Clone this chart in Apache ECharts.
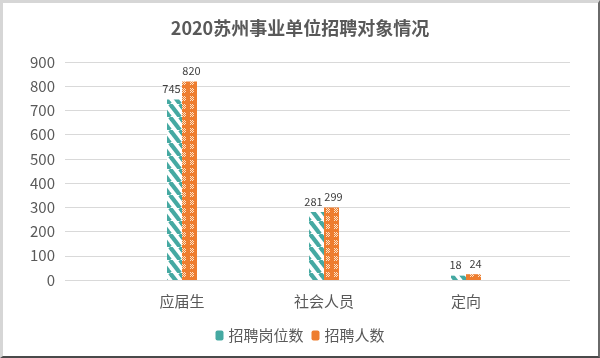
<!DOCTYPE html>
<html><head><meta charset="utf-8">
<script src="https://cdn.jsdelivr.net/npm/echarts@6/dist/echarts.min.js"></script>
<style>
html,body{margin:0;padding:0;background:#fff;}
#wrap{position:relative;width:600px;height:358px;overflow:hidden;}
#chart{position:absolute;left:0;top:0;width:600px;height:358px;}
#frame{position:absolute;left:0;top:0;width:595px;height:353px;border-left:3px solid #d6d6d6;border-top:3px solid #d6d6d6;border-right:2px solid #6a6a6a;border-bottom:2px solid #4a4a4a;pointer-events:none;}
</style></head>
<body><div id="wrap"><div id="chart"></div><div id="frame"></div></div>
<script>
const categories = ['应届生', '社会人员', '定向'];
const positions = [745, 281, 18];
const people = [820, 299, 24];
const seriesNames = ['招聘岗位数', '招聘人数'];
const yTicks = [0, 100, 200, 300, 400, 500, 600, 700, 800, 900];

function stripeTile() {
  const w = 10, h = 13;
  const c = document.createElement('canvas');
  c.width = w; c.height = h;
  const g = c.getContext('2d');
  g.fillStyle = '#ffffff'; g.fillRect(0, 0, w, h);
  g.strokeStyle = '#45a9a2'; g.lineWidth = 4.2;
  for (let k = -1; k <= 1; k++) {
    g.beginPath(); g.moveTo(k * w, 0); g.lineTo(k * w + w, h); g.stroke();
  }
  return c;
}
function checkTile() {
  const w = 8, h = 8;
  const c = document.createElement('canvas');
  c.width = w; c.height = h;
  const g = c.getContext('2d');
  g.fillStyle = '#ee7d2f'; g.fillRect(0, 0, w, h);
  g.fillStyle = '#f9e3cc';
  for (let y = 0; y < 5; y++) for (let x = 0; x < w; x++) {
    if ((x + y) % 2 === 0 && (x < 2 || x > 5)) g.fillRect(x, y, 1, 1);
  }
  return c;
}
const tealFill = { image: stripeTile(), repeat: 'repeat' };
const orangeFill = { image: checkTile(), repeat: 'repeat' };

const font = 'Noto Sans CJK SC';
const chart = echarts.init(document.getElementById('chart'));
chart.setOption({
  animation: false,
  title: { text: '2020苏州事业单位招聘对象情况', left: 'center', top: 14,
    textStyle: { fontFamily: font, fontSize: 18, fontWeight: 'bold', color: '#595959' } },
  legend: { bottom: 10, left: 'center', itemWidth: 8, itemHeight: 10, itemGap: 8,
    textStyle: { fontFamily: font, fontSize: 15, color: '#595959' },
    data: [
      { name: seriesNames[0], itemStyle: { color: '#45a9a2' } },
      { name: seriesNames[1], itemStyle: { color: '#ee7d2f' } }
    ] },
  grid: [
    { left: 65, right: 30, top: 62, bottom: 78 },
    { left: 111, right: 63, top: 62, bottom: 78 }
  ],
  xAxis: [
    { type: 'category', gridIndex: 0, data: categories, show: false },
    { type: 'category', gridIndex: 1, data: categories,
      axisLine: { show: false }, axisTick: { show: false },
      axisLabel: { fontFamily: font, fontSize: 15, color: '#595959', margin: 14 } }
  ],
  yAxis: [
    { type: 'value', gridIndex: 0, min: yTicks[0], max: yTicks[yTicks.length - 1], interval: 100,
      axisLine: { show: false }, axisTick: { show: false },
      axisLabel: { fontFamily: font, fontSize: 15, color: '#595959', margin: 10 },
      splitLine: { lineStyle: { color: '#d9d9d9', width: 1 } } },
    { type: 'value', gridIndex: 1, min: 0, max: 900, interval: 100, show: false,
      splitLine: { show: false } }
  ],
  series: [
    { name: seriesNames[0], type: 'bar', xAxisIndex: 1, yAxisIndex: 1, data: positions,
      barWidth: 15, barGap: '0%', itemStyle: { color: tealFill },
      label: { show: true, position: 'top', distance: 5, offset: [-3, 0], fontFamily: font, fontSize: 11, color: '#404040' } },
    { name: seriesNames[1], type: 'bar', xAxisIndex: 1, yAxisIndex: 1, data: people,
      barWidth: 15, barGap: '0%', itemStyle: { color: orangeFill },
      label: { show: true, position: 'top', distance: 5, offset: [2, 0], fontFamily: font, fontSize: 11, color: '#404040' } }
  ]
});
</script></body></html>
